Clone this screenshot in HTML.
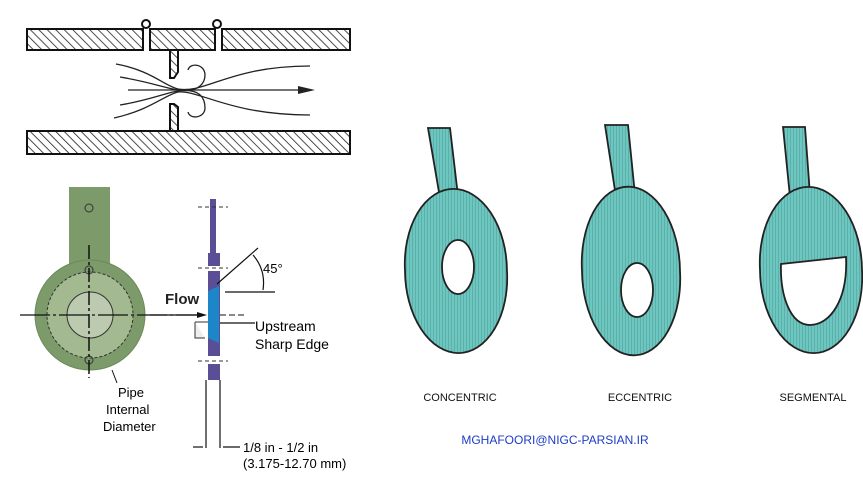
<!DOCTYPE html>
<html><head><meta charset="utf-8"><style>body{margin:0;background:#fff}svg{display:block}</style></head><body>
<svg width="863" height="483" viewBox="0 0 863 483" xmlns="http://www.w3.org/2000/svg" font-family="Liberation Sans, sans-serif">
<defs>
<pattern id="h" width="6" height="6" patternUnits="userSpaceOnUse" patternTransform="rotate(-45)"><rect width="6" height="6" fill="#fff"/><line x1="0" y1="0" x2="0" y2="6" stroke="#222" stroke-width="1.6"/></pattern>
<pattern id="t" width="3" height="3" patternUnits="userSpaceOnUse"><rect width="3" height="3" fill="#6cc7c0"/><line x1="1.5" y1="0" x2="1.5" y2="3" stroke="#5aa9a3" stroke-width="0.8"/></pattern>
</defs>
<!-- top pipe -->
<g stroke="#111" stroke-width="2">
<rect x="27" y="29" width="116" height="21" fill="url(#h)"/>
<rect x="150" y="29" width="65" height="21" fill="url(#h)"/>
<rect x="222" y="29" width="128" height="21" fill="url(#h)"/>
<rect x="27" y="131" width="323" height="23" fill="url(#h)"/>
<path d="M170 50 H178 V72 L174 78 H170 Z" fill="url(#h)"/>
<path d="M170 131 H178 V107 L174 104 H170 Z" fill="url(#h)"/>
<circle cx="146" cy="24" r="4" fill="#fff"/><circle cx="217" cy="24" r="4" fill="#fff"/>
</g>
<g fill="none" stroke="#222" stroke-width="1.3">
<path d="M116 64 C150 70 165 86 178 89 C205 94 230 66 310 66"/>
<path d="M120 77 C150 82 165 88 178 90 C200 93 205 82 205 75 C205 64 190 62 188 70"/>
<path d="M120 105 C150 100 165 93 178 91 C200 88 205 98 205 108 C205 118 190 120 188 112"/>
<path d="M114 118 C150 110 165 95 178 92 C200 90 230 115 310 115"/>
<line x1="128" y1="90" x2="300" y2="90"/>
</g>
<path d="M298 86 L315 90 L298 94 Z" fill="#222"/>
<!-- green plate -->
<rect x="69" y="187" width="41" height="90" fill="#7d9a6a"/>
<circle cx="90" cy="315" r="55" fill="#7d9a6a" stroke="#6b8a5a"/>
<circle cx="90" cy="315" r="43" fill="#a3ba91" stroke="#333" stroke-dasharray="3,2"/>
<circle cx="90" cy="315" r="23" fill="#bccbb0" stroke="#333"/>
<circle cx="89" cy="208" r="4" fill="none" stroke="#333"/>
<circle cx="89" cy="270" r="4" fill="none" stroke="#333"/><circle cx="89" cy="360" r="4" fill="none" stroke="#333"/>
<line x1="89" y1="245" x2="89" y2="378" stroke="#111" stroke-width="1.5" stroke-dasharray="14,3,3,3"/>
<line x1="20" y1="315" x2="200" y2="315" stroke="#111" stroke-width="1.3" stroke-dasharray="30,3,3,3"/>
<line x1="150" y1="315" x2="203" y2="315" stroke="#111" stroke-width="1.3"/>
<path d="M197 312 L207 315 L197 318 Z" fill="#111"/>
<line x1="220" y1="315" x2="245" y2="315" stroke="#111" stroke-dasharray="6,3"/>
<text x="165" y="304" font-size="15" font-weight="bold" fill="#222">Flow</text>
<path d="M112 370 L117 383" stroke="#111" fill="none"/>
<text x="118" y="397" font-size="13">Pipe</text>
<text x="106" y="414" font-size="13">Internal</text>
<text x="103" y="431" font-size="13">Diameter</text>
<!-- side view -->
<rect x="210" y="199" width="6" height="54" fill="#5a4f96"/>
<rect x="208" y="253" width="12" height="13" fill="#5a4f96"/>
<rect x="208" y="271" width="12" height="85" fill="#5a4f96"/>
<path d="M208 291 L219 286 V343 L208 338 Z" fill="#1d86c8"/>
<rect x="208" y="364" width="12" height="16" fill="#5a4f96"/>
<g stroke="#333" stroke-dasharray="4,3"><line x1="198" y1="207" x2="228" y2="207"/><line x1="198" y1="268" x2="228" y2="268"/><line x1="198" y1="361" x2="228" y2="361"/></g>
<path d="M195 322 H208 M195 322 V338 H205" stroke="#333" fill="#eee"/>
<g stroke="#111" stroke-width="1.2" fill="none">
<line x1="217" y1="284" x2="258" y2="248"/><line x1="225" y1="292" x2="275" y2="292"/>
<path d="M253 255 Q266 270 263 290"/>
<line x1="220" y1="323" x2="255" y2="323"/>
<line x1="206" y1="380" x2="206" y2="448"/><line x1="220" y1="380" x2="220" y2="448"/>
<line x1="193" y1="447" x2="203" y2="447"/><line x1="223" y1="447" x2="240" y2="447"/>
</g>
<text x="263" y="273" font-size="13">45°</text>
<text x="255" y="331" font-size="14">Upstream</text>
<text x="255" y="349" font-size="14">Sharp Edge</text>
<text x="243" y="452" font-size="13">1/8 in - 1/2 in</text>
<text x="243" y="468" font-size="13">(3.175-12.70 mm)</text>
<!-- right plates -->
<g fill="url(#t)" stroke="#222" stroke-width="1.8">
<path d="M428 128 L450 128 L458 196 L440 198 Z"/>
<path fill-rule="evenodd" d="M405 271 a51 79 -3 1 0 102 0 a51 79 -3 1 0 -102 0 Z M442 267 a16 27 0 1 0 32 0 a16 27 0 1 0 -32 0 Z"/>
<path d="M605 125 L628 125 L635 195 L616 197 Z"/>
<path fill-rule="evenodd" d="M582 271 a49 81 -3 1 0 98 0 a49 81 -3 1 0 -98 0 Z M621 290 a16 27 0 1 0 32 0 a16 27 0 1 0 -32 0 Z"/>
<path d="M783 127 L805 127 L810 195 L790 197 Z"/>
<path fill-rule="evenodd" d="M760 270 a51 80 -3 1 0 102 0 a51 80 -3 1 0 -102 0 Z M781 264 L846 257 C848 300 830 325 810 325 C790 325 780 295 781 264 Z"/>
</g>
<g font-size="11" text-anchor="middle" fill="#111">
<text x="460" y="401">CONCENTRIC</text><text x="640" y="401">ECCENTRIC</text><text x="813" y="401">SEGMENTAL</text>
</g>
<text x="555" y="444" font-size="12" text-anchor="middle" fill="#1e3cc8">MGHAFOORI@NIGC-PARSIAN.IR</text>
</svg>
</body></html>
